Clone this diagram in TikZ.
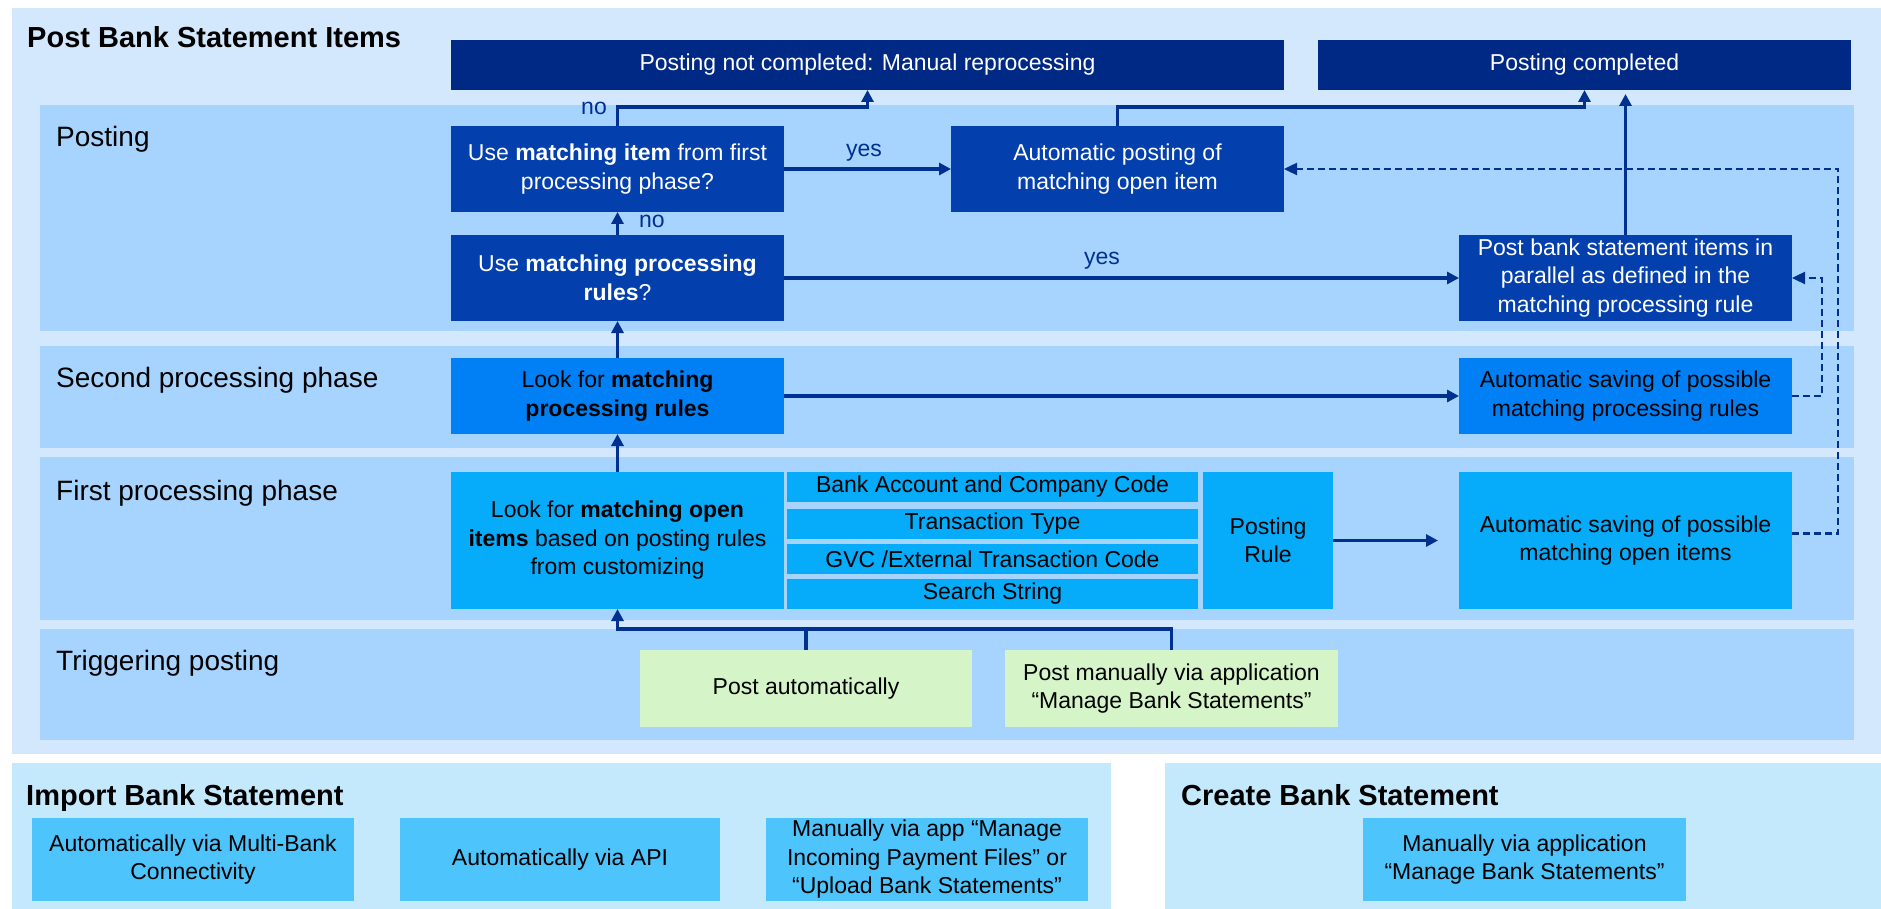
\documentclass[tikz,border=0pt]{standalone}
\usepackage{fontspec}
\setmainfont{Liberation Sans}
\usetikzlibrary{arrows.meta}
\definecolor{outerbg}{HTML}{D3E8FD}
\definecolor{lanebg}{HTML}{A6D4FE}
\definecolor{botbg}{HTML}{C4E9FC}
\definecolor{navy}{HTML}{002985}
\definecolor{qblue}{HTML}{0340AE}
\definecolor{ruleblue}{HTML}{0080F4}
\definecolor{openblue}{HTML}{06ABF9}
\definecolor{greenbg}{HTML}{D5F5C9}
\definecolor{impblue}{HTML}{4DC4FC}
\definecolor{linecol}{HTML}{003090}
\begin{document}
\begin{tikzpicture}[x=1pt,y=-1pt,
  panel/.style={inner sep=0pt, outer sep=0pt, draw=none},
  box/.style={inner sep=0pt, outer sep=0pt, draw=none, align=center, font=\fontsize{23}{28.5}\selectfont},
  navybox/.style={box, fill=navy, text=white},
  qbox/.style={box, fill=qblue, text=white},
  rulebox/.style={box, fill=ruleblue, text=black},
  openbox/.style={box, fill=openblue, text=black},
  greenbox/.style={box, fill=greenbg, text=black},
  impbox/.style={box, fill=impblue, text=black},
  lanelabel/.style={anchor=base west, inner sep=0pt, font=\fontsize{28}{34}\selectfont},
  header/.style={anchor=base west, inner sep=0pt, font=\bfseries\fontsize{29}{35}\selectfont},
  lbl/.style={inner sep=0pt, text=linecol, font=\fontsize{23}{28}\selectfont},
  ln/.style={draw=linecol, line width=3.5pt},
  arr/.style={ln, -{Triangle[length=12pt,width=12pt]}},
  darr/.style={draw=linecol, line width=2.5pt, dash pattern=on 7pt off 4pt, -{Triangle[length=13pt,width=12pt]}}
]
\useasboundingbox (0,0) rectangle (1881,909);
\fill[white] (0,0) rectangle (1881,909);

% panels
\node[panel, fill=outerbg, minimum width=1869pt, minimum height=746pt] (outer) at (946.5,381) {};
\node[panel, fill=botbg, minimum width=1099pt, minimum height=146pt] (imppanel) at (561.5,836) {};
\node[panel, fill=botbg, minimum width=716pt, minimum height=146pt] (crepanel) at (1523,836) {};

% lanes
\node[panel, fill=lanebg, minimum width=1814pt, minimum height=226pt] (lpost) at (947,218) {};
\node[panel, fill=lanebg, minimum width=1814pt, minimum height=102pt] (lsecond) at (947,397) {};
\node[panel, fill=lanebg, minimum width=1814pt, minimum height=163pt] (lfirst) at (947,538.5) {};
\node[panel, fill=lanebg, minimum width=1814pt, minimum height=111pt] (ltrig) at (947,684.5) {};

% headers and lane labels
\node[header] (title) at (27,48) {Post Bank Statement Items};
\node[header] (imptitle) at (26,805) {Import Bank Statement};
\node[header] (cretitle) at (1181,805) {Create Bank Statement};
\node[lanelabel] (tpost) at (56,146.5) {Posting};
\node[lanelabel] (tsecond) at (56,387) {Second processing phase};
\node[lanelabel] (tfirst) at (56,500) {First processing phase};
\node[lanelabel] (ttrig) at (56,670) {Triggering posting};

% top result boxes
\node[navybox, minimum width=833pt, minimum height=50pt] (notcomp) at (867.5,65) {Posting not completed: Manual reprocessing};
\node[navybox, minimum width=533pt, minimum height=50pt] (comp) at (1584.5,65) {Posting completed};

% posting lane
\node[qbox, minimum width=333pt, minimum height=86pt] (q1) at (617.5,169) {Use \textbf{matching item} from first\\processing phase?};
\node[qbox, minimum width=333pt, minimum height=86pt] (autopost) at (1117.5,169) {Automatic posting of\\matching open item};
\node[qbox, minimum width=333pt, minimum height=86pt] (q2) at (617.5,278) {Use \textbf{matching processing}\\\textbf{rules}?};
\node[qbox, minimum width=333pt, minimum height=86pt] (parallel) at (1625.5,278) {Post bank statement items in\\parallel as defined in the\\matching processing rule};

% second processing lane
\node[rulebox, minimum width=333pt, minimum height=76pt] (lookrules) at (617.5,396) {Look for \textbf{matching}\\\textbf{processing rules}};
\node[rulebox, minimum width=333pt, minimum height=76pt] (saverules) at (1625.5,396) {Automatic saving of possible\\matching processing rules};

% first processing lane
\node[openbox, minimum width=333pt, minimum height=137pt] (lookopen) at (617.5,540.5) {Look for \textbf{matching open}\\\textbf{items} based on posting rules\\from customizing};
\node[openbox, minimum width=411pt, minimum height=30pt] (crit1) at (992.5,487) {Bank Account and Company Code};
\node[openbox, minimum width=411pt, minimum height=30pt] (crit2) at (992.5,524) {Transaction Type};
\node[openbox, minimum width=411pt, minimum height=30pt] (crit3) at (992.5,559) {GVC /External Transaction Code};
\node[openbox, minimum width=411pt, minimum height=30pt] (crit4) at (992.5,594) {Search String};
\node[openbox, minimum width=130pt, minimum height=137pt] (postrule) at (1268,540.5) {Posting\\Rule};
\node[openbox, minimum width=333pt, minimum height=137pt] (saveopen) at (1625.5,540.5) {Automatic saving of possible\\matching open items};

% triggering lane
\node[greenbox, minimum width=332pt, minimum height=77pt] (postauto) at (806,688.5) {Post automatically};
\node[greenbox, minimum width=333pt, minimum height=77pt] (postman) at (1171.5,688.5) {Post manually via application\\“Manage Bank Statements”};

% bottom boxes
\node[impbox, minimum width=322pt, minimum height=83pt] (imp1) at (193,859.5) {Automatically via Multi-Bank\\Connectivity};
\node[impbox, minimum width=320pt, minimum height=83pt] (imp2) at (560,859.5) {Automatically via API};
\node[impbox, minimum width=322pt, minimum height=83pt] (imp3) at (927,859.5) {Manually via app “Manage\\Incoming Payment Files” or\\“Upload Bank Statements”};
\node[impbox, minimum width=323pt, minimum height=83pt] (crebox) at (1524.5,859.5) {Manually via application\\“Manage Bank Statements”};

% connectors
\coordinate (busy) at (0,629);
\draw[ln] (postauto.north) -- (postauto.north |- busy);
\draw[arr] (postman.north) -- (postman.north |- busy) -- (lookopen.south |- busy) -- (lookopen.south);
\draw[arr] (lookopen.north) -- (lookrules.south);
\draw[arr] (lookrules.north) -- (q2.south);
\draw[arr] (q2.north) -- (q1.south);
\node[lbl, anchor=west] (no2) at (639,221) {no};
\draw[arr] (q1.north) -- ++(0,-19) -| (notcomp.south);
\node[lbl, anchor=east] (no1) at (607,108) {no};
\draw[arr] (q1.east) -- (autopost.west);
\node[lbl, anchor=base] (yes1) at (864,157) {yes};
\draw[arr] (autopost.north) -- ++(0,-19) -| (comp.south);
\draw[arr, shorten >=4pt] (parallel.north) -- (parallel.north |- comp.south);
\draw[arr] (q2.east) -- (parallel.west);
\node[lbl, anchor=base] (yes2) at (1102,265) {yes};
\draw[arr] (lookrules.east) -- (saverules.west);
\draw[arr, shorten >=21pt] (postrule.east) -- (saveopen.west);
\draw[darr] ([yshift=7pt]saveopen.east) -- ++(46,0) |- (autopost.east);
\draw[darr] (saverules.east) -- ++(30,0) |- (parallel.east);
\end{tikzpicture}
\end{document}
